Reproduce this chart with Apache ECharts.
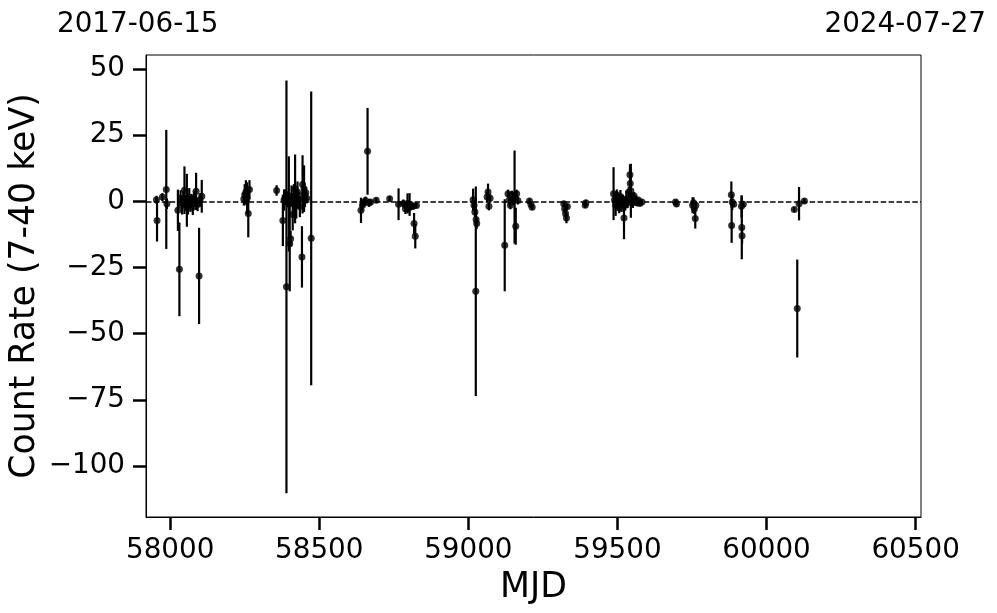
<!DOCTYPE html>
<html>
<head>
<meta charset="utf-8">
<script src="https://cdn.jsdelivr.net/npm/echarts@6/dist/echarts.min.js"></script>
<style>html,body{margin:0;padding:0;background:#fff;}#chart{width:997px;height:613px;}</style>
</head>
<body>
<div id="chart"></div>
<script>
// Observation dates (MJD)
const mjd = [
  57954, 57956, 57974, 57987, 57989,
  58026, 58031, 58035, 58040, 58044, 58048, 58052, 58056, 58060, 58064, 58068, 58072, 58076, 58080, 58087, 58092, 58097, 58100, 58106,
  58247, 58250, 58254, 58258, 58262, 58266,
  58357,
  58378, 58382, 58386, 58390, 58393, 58398, 58401, 58404, 58407, 58411, 58415, 58419, 58423, 58427, 58431, 58435, 58442, 58444, 58447, 58449, 58452, 58455, 58458, 58473,
  58640, 58645, 58650, 58655, 58662, 58667, 58672, 58691, 58736, 58766, 58782, 58789, 58793, 58796, 58800, 58803, 58808, 58812, 58815, 58818, 58822, 58826,
  59016, 59019, 59022, 59025, 59026, 59028,
  59063, 59066, 59069, 59073,
  59122, 59133, 59137, 59141, 59146, 59150, 59155, 59159, 59162, 59166,
  59205, 59210, 59214,
  59320, 59323, 59326, 59329, 59332,
  59392, 59394,
  59487, 59490, 59494, 59498, 59502, 59506, 59510, 59514, 59518, 59522, 59526, 59530, 59534, 59538, 59542, 59543, 59545, 59548, 59552, 59556, 59560, 59565, 59570, 59575, 59582,
  59695, 59698,
  59752, 59755, 59758, 59761, 59763,
  59882, 59883, 59885, 59890, 59916, 59917, 59918, 59922,
  60093, 60103, 60109, 60127
];
// Count rate (7-40 keV)
const rate = [
  0.6, -7.2, 1.6, 4.5, -0.9,
  -3.4, -25.7, 1.2, -1.5, 0.8, 4.2, -0.5, 0.4, -2.0, 1.5, -1.0, 0.3, -2.2, 1.0, 3.8, -1.2, -28.2, 0.5, 1.9,
  0.9, 2.5, 3.5, 1.2, -4.6, 4.5,
  4.1,
  -7.2, 0.5, 1.5, -32.3, 0.8, -1.0, -16.0, -14.1, 2.0, -5.0, 1.5, 4.7, -1.5, 3.5, 0.5, -2.0, -21.0, 6.4, 2.5, 4.8, 0.8, 3.2, 1.2, -14.0,
  -3.4, -1.5, -0.5, 0.3, 18.9, -0.6, -0.3, 0.4, 1.0, -1.1, -0.8, -2.8, -1.8, -0.8, -2.5, -1.2, -1.5, -2.0, -1.8, -8.4, -13.2, -1.6,
  0.6, -1.5, -4.0, -34.0, -6.9, -8.4,
  1.6, 3.5, -1.9, 1.2,
  -16.6, 2.9, 0.5, -1.5, 2.5, 0.2, 1.6, -9.4, 2.9, 0.3,
  0.1, -1.2, -2.2,
  -0.9, -2.8, -4.6, -6.3, -2.0,
  -1.5, -0.5,
  2.9, 0.5, -1.5, 2.5, -0.5, -2.5, 1.8, -1.0, 0.5, -6.3, -1.5, 1.0, -0.5, 3.5, 10.0, 6.7, 4.0, 1.2, -0.5, 2.0, 0.8, -0.4, 0.5, -0.8, -0.3,
  -0.3, -1.0,
  -1.5, -0.5, -2.8, -6.5, -1.5,
  2.5, -9.1, -0.3, -1.1, -1.9, -9.9, -13.0, -1.1,
  -3.1, -40.5, -0.9, 0.1
];
// 1-sigma errors
const err = [
  1.5, 8.0, 1.5, 22.5, 2.0,
  7.8, 17.7, 3.0, 3.5, 3.0, 9.0, 3.0, 10.0, 3.0, 3.5, 3.0, 2.5, 3.0, 3.0, 7.0, 2.5, 18.2, 2.5, 6.2,
  2.5, 4.0, 4.5, 6.0, 9.0, 3.5,
  2.0,
  9.7, 4.0, 3.0, 78.0, 3.0, 18.0, 18.0, 3.0, 4.0, 6.0, 5.0, 13.0, 5.0, 4.0, 3.0, 4.0, 11.6, 11.0, 4.0, 8.8, 3.0, 2.0, 2.0, 55.5,
  4.8, 2.0, 1.5, 1.5, 16.4, 1.5, 1.0, 1.0, 1.0, 6.0, 1.5, 2.0, 1.5, 3.8, 1.5, 4.3, 1.5, 1.0, 1.0, 4.0, 4.6, 1.0,
  4.2, 2.0, 2.0, 39.6, 2.0, 2.0,
  2.0, 3.2, 1.5, 1.5,
  17.4, 1.5, 2.0, 1.5, 1.5, 1.5, 17.6, 7.0, 1.5, 1.5,
  1.0, 1.0, 1.0,
  1.0, 1.5, 1.5, 2.0, 1.0,
  1.0, 1.0,
  10.0, 3.0, 4.0, 2.0, 3.0, 2.0, 2.5, 3.0, 2.0, 8.0, 2.0, 3.0, 2.0, 2.0, 4.0, 2.0, 10.2, 2.0, 2.0, 1.5, 1.5, 1.5, 1.0, 1.0, 1.0,
  1.0, 1.0,
  3.0, 2.0, 2.0, 3.8, 1.5,
  5.0, 6.6, 3.0, 1.0, 4.2, 12.0, 3.0, 1.0,
  1.0, 18.5, 6.3, 1.0
];
const xTicks = [58000, 58500, 59000, 59500, 60000, 60500];
const yTicks = [-100, -75, -50, -25, 0, 25, 50];
const startLabel = '2017-06-15';
const endLabel = '2024-07-27';
const xTitle = 'MJD';
const yTitle = 'Count Rate (7-40 keV)';

const FONT = 'DejaVu Sans';
const pts = mjd.map((m, i) => [m, rate[i]]);
const bars = mjd.map((m, i) => [m, rate[i] - err[i], rate[i] + err[i]]);

const chart = echarts.init(document.getElementById('chart'), null, {renderer: 'canvas'});
const axisCommon = {
  axisLine: {show: true, onZero: false, lineStyle: {color: '#000', width: 1}},
  splitLine: {show: false},
  axisTick: {show: true, inside: false, length: 13, lineStyle: {color: '#000', width: 2.5}},
  nameTextStyle: {fontFamily: FONT, fontSize: 34.7, color: '#000'}
};
chart.setOption({
  animation: false,
  backgroundColor: '#fff',
  grid: {left: 146, right: 76, top: 55, bottom: 96, show: true, borderColor: '#000', borderWidth: 1,
    containLabel: false, outerBoundsMode: 'none'},
  xAxis: Object.assign({}, axisCommon, {
    type: 'value', min: 57919, max: 60518,
    axisTick: Object.assign({}, axisCommon.axisTick, {customValues: xTicks}),
    axisLabel: {customValues: xTicks, fontFamily: FONT, fontSize: 27.8, color: '#000', margin: 20,
      formatter: v => String(v)},
    name: xTitle, nameLocation: 'middle', nameGap: 53
  }),
  yAxis: Object.assign({}, axisCommon, {
    type: 'value', min: -119.3, max: 55.3,
    axisTick: Object.assign({}, axisCommon.axisTick, {customValues: yTicks}),
    axisLabel: {customValues: yTicks, fontFamily: FONT, fontSize: 27.8, color: '#000', margin: 21,
      formatter: v => String(v).replace('-', '\u2212')}
  }),
  graphic: [
    {type: 'text', left: 57, top: 11, style: {text: startLabel, font: '27.8px "DejaVu Sans"', fill: '#000'}},
    {type: 'text', right: 11, top: 11, style: {text: endLabel, font: '27.8px "DejaVu Sans"', fill: '#000'}},
    {type: 'text', x: 25, y: 286, rotation: Math.PI / 2,
      style: {text: yTitle, font: '34.7px "DejaVu Sans"', fill: '#000', align: 'center', verticalAlign: 'middle'}}
  ],
  series: [
    {
      type: 'custom',
      data: bars,
      z: 2,
      renderItem: function (params, api) {
        const a = api.coord([api.value(0), api.value(1)]);
        const b = api.coord([api.value(0), api.value(2)]);
        return {type: 'line', shape: {x1: a[0], y1: a[1], x2: b[0], y2: b[1]},
          style: {stroke: '#000', lineWidth: 2.2}};
      },
      clip: true,
      silent: true
    },
    {
      type: 'scatter',
      data: pts,
      symbol: 'circle',
      symbolSize: 7,
      itemStyle: {color: '#000'},
      z: 3,
      silent: true,
      markLine: {
        silent: true, symbol: 'none', animation: false,
        label: {show: false},
        lineStyle: {color: '#000', type: [5.5, 2.4], width: 1.5},
        data: [{yAxis: 0}]
      }
    }
  ]
});
</script>
</body>
</html>
